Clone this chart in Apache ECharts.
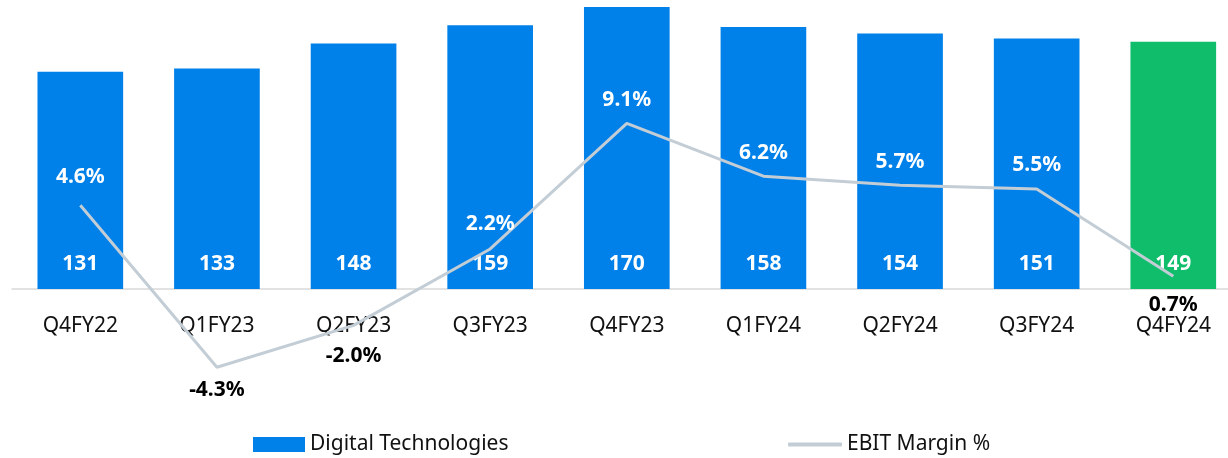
<!DOCTYPE html>
<html>
<head>
<meta charset="utf-8">
<script src="https://cdn.jsdelivr.net/npm/echarts@6/dist/echarts.min.js"></script>
<style>
  html, body { margin: 0; padding: 0; background: #fff; }
  #chart { width: 1228px; height: 458px; }
</style>
</head>
<body>
<div id="chart"></div>
<script>
var quarters = ['Q4FY22', 'Q1FY23', 'Q2FY23', 'Q3FY23', 'Q4FY23', 'Q1FY24', 'Q2FY24', 'Q3FY24', 'Q4FY24'];
var revenue = [131, 133, 148, 159, 170, 158, 154, 151, 149];
var margin = [4.6, -4.3, -2.0, 2.2, 9.1, 6.2, 5.7, 5.5, 0.7];

var font = '"Noto Sans", "Open Sans", sans-serif';

var barData = revenue.map(function (v, i) {
  if (i == revenue.length - 1) {
    return { value: v, itemStyle: { color: '#10BD6B' } };
  }
  return v;
});

// labels above the point on the bars, below in black for the rest
var lineData = margin.map(function (v, i) {
  var below = v < 0 || i == margin.length - 1;
  var dist = below ? 12 : 13;
  if (i == 0) dist = 18;
  if (i == 1) dist = 12;
  if (i == 2) dist = 20;
  if (i == 3) dist = 14;
  if (i == 8) dist = 18;
  return {
    value: v,
    label: {
      position: below ? 'bottom' : 'top',
      distance: dist,
      color: below ? '#000' : '#fff'
    }
  };
});

var myChart = echarts.init(document.getElementById('chart'));
var option = {
  animation: false,
  textStyle: { fontFamily: font },
  // grid bottom sits on the zero line, the margin line runs below it
  grid: { left: 12, width: 1229.6, top: 7, bottom: 169, outerBoundsMode: 'none' },
  legend: [
    {
      data: [{ name: 'Digital Technologies', icon: 'rect' }],
      left: 248, top: 429,
      itemWidth: 52, itemHeight: 15, itemGap: 6,
      textStyle: { fontFamily: font, fontSize: 21, color: '#111' }
    },
    {
      data: [{ name: 'EBIT Margin %', icon: 'roundRect' }],
      left: 783, top: 429,
      itemWidth: 54, itemHeight: 4, itemGap: 6,
      textStyle: { fontFamily: font, fontSize: 21, color: '#111' }
    }
  ],
  xAxis: {
    type: 'category',
    data: quarters,
    axisTick: { show: false },
    axisLine: { lineStyle: { color: '#D9D9D9', width: 1.5 } },
    axisLabel: { margin: 27, fontSize: 21, color: '#111', fontFamily: font }
  },
  yAxis: [
    { type: 'value', min: 0, max: 170, show: false, splitLine: { show: false } },
    { type: 'value', min: 0, max: 15.5, show: false, splitLine: { show: false } }
  ],
  series: [
    {
      name: 'Digital Technologies',
      type: 'bar',
      data: barData,
      barWidth: '62.7%',
      itemStyle: { color: '#0080E9' },
      label: {
        show: true,
        position: 'insideBottom',
        distance: 14,
        color: '#fff',
        fontWeight: 'bold',
        fontSize: 21,
        fontFamily: font
      }
    },
    {
      name: 'EBIT Margin %',
      type: 'line',
      yAxisIndex: 1,
      data: lineData,
      clip: false,
      symbol: 'circle',
      symbolSize: 0,
      showSymbol: true,
      z: 5,
      lineStyle: { color: '#C3CDD5', width: 3 },
      itemStyle: { color: '#C3CDD5' },
      label: {
        show: true,
        fontWeight: 'bold',
        fontSize: 21,
        fontFamily: font,
        formatter: function (p) { return p.value.toFixed(1) + '%'; }
      }
    }
  ]
};
if (option && typeof option === "object") {
  myChart.setOption(option, true);
}
</script>
</body>
</html>
